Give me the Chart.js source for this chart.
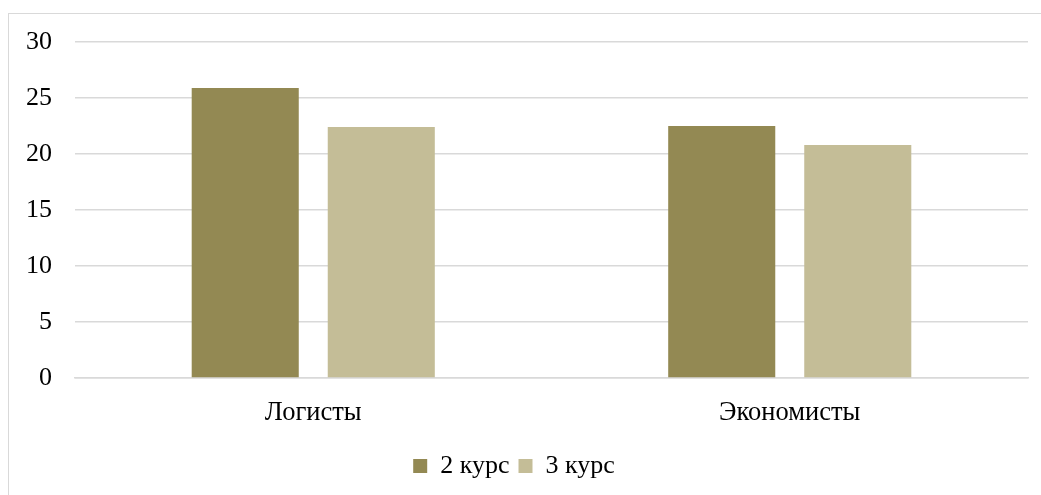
<!DOCTYPE html>
<html>
<head>
<meta charset="utf-8">
<script src="https://cdn.jsdelivr.net/npm/chart.js@4"></script>
<style>
    html, body { margin: 0; padding: 0; background: #fff; overflow: hidden; }
    #frame {
        position: absolute; left: 8px; top: 13px;
        width: 1100px; height: 600px;
        border: 1px solid #d9d9d9;
        box-sizing: border-box;
    }
    #wrap { position: absolute; left: 0; top: 0; width: 1041px; height: 495px; }
</style>
</head>
<body>
<div id="frame"></div>
<div id="wrap"><canvas id="chart" width="1041" height="495"></canvas></div>
<script>
// chart data
const categories = ['Логисты', 'Экономисты'];
const course2 = [25.9, 22.5];
const course3 = [22.4, 20.8];
const seriesNames = ['2 курс', '3 курс'];
const yTicks = [0, 5, 10, 15, 20, 25, 30];

const fontFamily = '"Liberation Serif", "Times New Roman", serif';

new Chart(document.getElementById('chart'), {
    type: 'bar',
    data: {
        labels: categories,
        datasets: [
            { label: seriesNames[0], data: course2, backgroundColor: '#938953' },
            { label: seriesNames[1], data: course3, backgroundColor: '#c4bd97' }
        ]
    },
    options: {
        responsive: false,
        animation: false,
        devicePixelRatio: 1,
        layout: { padding: { left: 0, right: 13, top: 42, bottom: 6 } },
        datasets: {
            bar: { categoryPercentage: 0.571, barPercentage: 0.787 }
        },
        plugins: {
            tooltip: { enabled: false },
            legend: {
                position: 'bottom',
                labels: {
                    color: '#000',
                    font: { family: fontFamily, size: 26 },
                    boxWidth: 14,
                    boxHeight: 14,
                    padding: 9
                }
            }
        },
        scales: {
            x: {
                grid: { display: false, drawTicks: false },
                border: { display: true, color: '#d9d9d9', width: 1.5 },
                ticks: {
                    color: '#000',
                    font: { family: fontFamily, size: 26.5 },
                    padding: 19
                },
                afterFit: scale => { scale.height = 66; }
            },
            y: {
                min: 0,
                max: 30,
                afterBuildTicks: scale => { scale.ticks = yTicks.map(v => ({ value: v })); },
                grid: { color: '#d9d9d9', lineWidth: 1.5, drawTicks: false },
                border: { display: false },
                ticks: {
                    color: '#000',
                    font: { family: fontFamily, size: 26 },
                    padding: 23
                },
                afterFit: scale => { scale.width = 75; }
            }
        }
    }
});
</script>
</body>
</html>
